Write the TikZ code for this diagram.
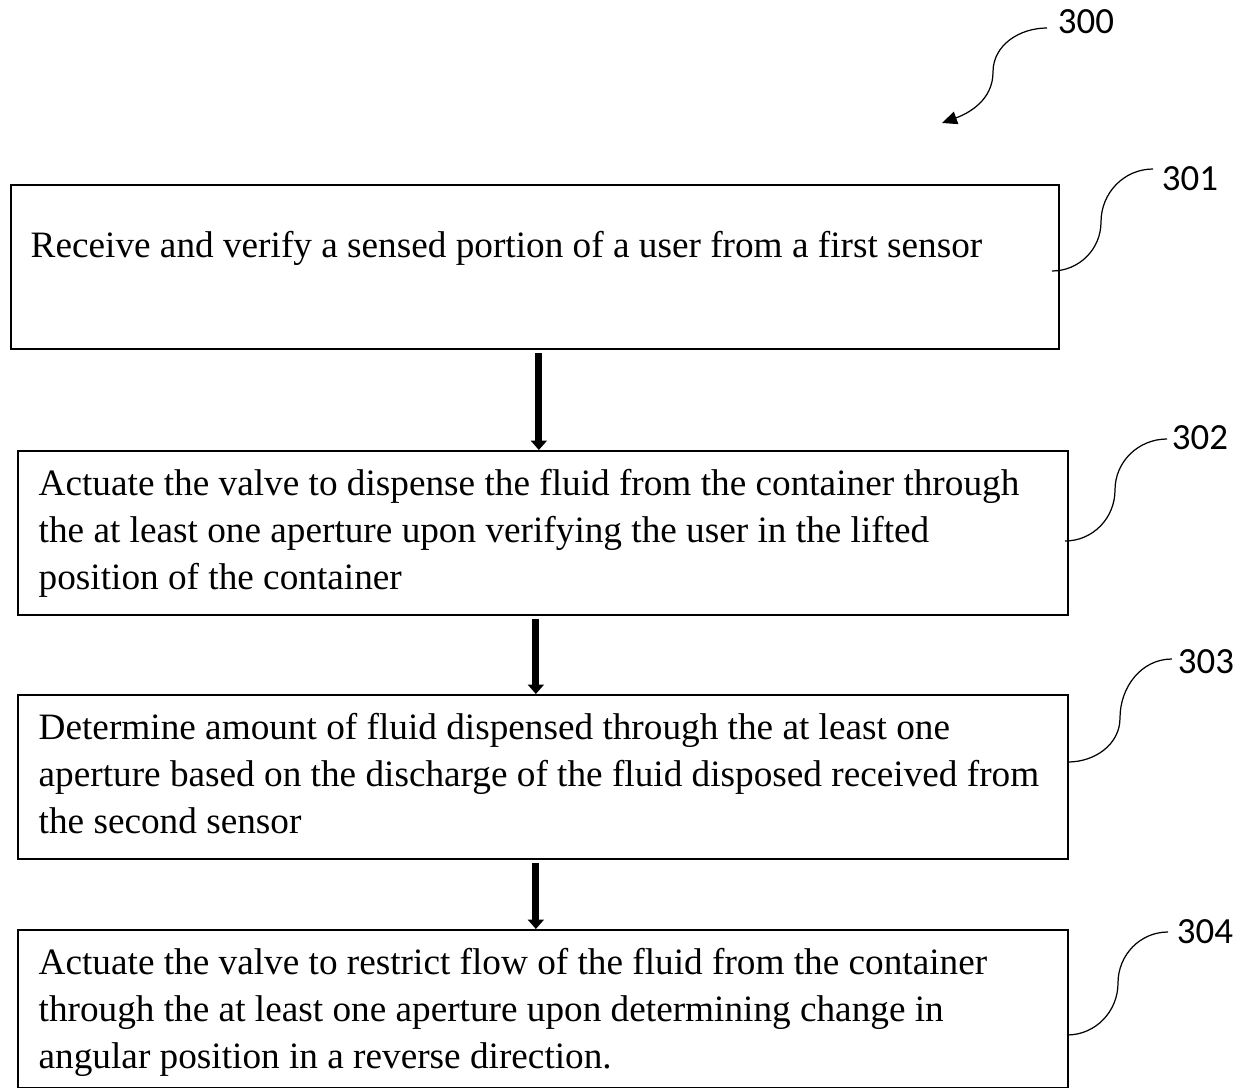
\documentclass[tikz,border=0pt]{standalone}
\usepackage{fontspec}
\setmainfont{Liberation Serif}
\newfontfamily\labelfont{Carlito}
\usetikzlibrary{positioning,arrows.meta,calc}
\tikzset{every picture/.style={>=latex,thick}}
\tikzset{stepbox/.style={draw,line width=1.1pt,inner sep=0pt,anchor=north west}}
\tikzset{steptext/.style={anchor=base west,inner sep=0pt,align=left,
  font=\fontsize{21.2}{26.7}\selectfont}}
\tikzset{reflabel/.style={font=\labelfont\fontsize{21}{24}\selectfont,inner sep=1pt}}
\tikzset{leader/.style={line width=0.7pt}}
\tikzset{flow/.style={line width=4pt,-{Triangle[length=0.19cm,width=0.32cm]}}}

\begin{document}
\begin{tikzpicture}[x=0.02cm,y=-0.02cm]
  \useasboundingbox (0,0) rectangle (1251,1088);
  % boxes
  \node[stepbox,minimum width=20.96cm,minimum height=3.28cm] (b301) at (10,184) {};
  \node[stepbox,minimum width=21cm,minimum height=3.28cm] (b302) at (17,450) {};
  \node[stepbox,minimum width=21cm,minimum height=3.28cm] (b303) at (17,694) {};
  \node[stepbox,minimum width=21cm,minimum height=3.16cm] (b304) at (17,929) {};
  % texts (base = last line)
  \node[steptext] (t301) at (30,257) {Receive and verify a sensed portion of a user from a first sensor};
  \node[steptext] (t302) at (38,589) {Actuate the valve to dispense the fluid from the container through\\
    the at least one aperture upon verifying the user in the lifted\\
    position of the container};
  \node[steptext] (t303) at (38,833) {Determine amount of fluid dispensed through the at least one\\
    aperture based on the discharge of the fluid disposed received from\\
    the second sensor};
  \node[steptext] (t304) at (38,1068) {Actuate the valve to restrict flow of the fluid from the container\\
    through the at least one aperture upon determining change in\\
    angular position in a reverse direction.};
  % flow arrows
  \draw[flow] ([xshift=0.08cm,yshift=-2pt]b301.south) -- ([xshift=0.08cm]b301.south |- b302.north);
  \draw[flow] ([xshift=-0.14cm,yshift=-2pt]b302.south) -- ([xshift=-0.14cm]b303.north);
  \draw[flow] ([xshift=-0.14cm,yshift=-2pt]b303.south) -- ([xshift=-0.14cm]b304.north);
  % reference numerals
  \node[reflabel] (l300) at (1086,22) {300};
  \node[reflabel] (l301) at (1190,179) {301};
  \node[reflabel] (l302) at (1200,438) {302};
  \node[reflabel] (l303) at (1206,662) {303};
  \node[reflabel] (l304) at (1205,932) {304};
  \coordinate (a300) at (942,123);
  \coordinate (e301) at (1052,271);
  \coordinate (e302) at (1065,541);
  \coordinate (e303) at (1068,762);
  \coordinate (e304) at (1067,1035);
  \draw[leader,-{Triangle[length=0.3cm,width=0.26cm]}] (1047,28) to[out=180,in=90] (993,72)
    to[out=-90,in=20] (a300);
  \draw[leader] (1153,169) to[out=180,in=90] (1101,222) to[out=-90,in=0] (e301);
  \draw[leader] (1167,439) to[out=180,in=90] (1115,490) to[out=-90,in=0] (e302);
  \draw[leader] (1172,659) to[out=180,in=90] (1120,718) to[out=-90,in=0] (e303);
  \draw[leader] (1168,932) to[out=180,in=90] (1118,983) to[out=-90,in=0] (e304);
\end{tikzpicture}
\end{document}
